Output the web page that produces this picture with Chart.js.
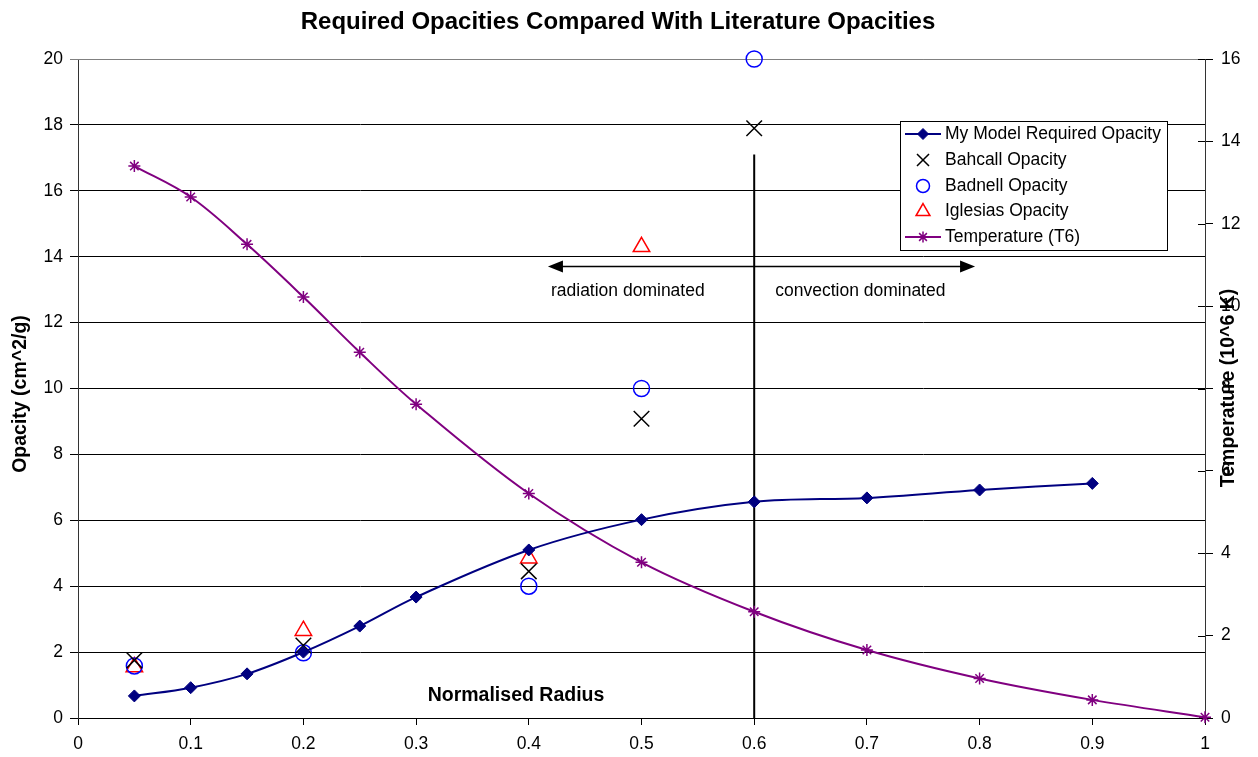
<!DOCTYPE html>
<html>
<head>
<meta charset="utf-8">
<script src="https://cdn.jsdelivr.net/npm/chart.js@4.4.1/dist/chart.umd.min.js"></script>
<style>
html,body{margin:0;padding:0;background:#fff;}
#wrap{width:1258px;height:757px;}
</style>
</head>
<body>
<div id="wrap"><canvas id="c" width="1258" height="757"></canvas></div>
<script>
// ---- data ----
const chartTitle = "Required Opacities Compared With Literature Opacities";
const modelRadius = [0.05, 0.1, 0.15, 0.2, 0.25, 0.3, 0.4, 0.5, 0.6, 0.7, 0.8, 0.9];
const modelOpacity = [0.67, 0.92, 1.34, 2.0, 2.79, 3.67, 5.1, 6.02, 6.56, 6.68, 6.92, 7.12];
const litRadius = [0.05, 0.2, 0.4, 0.5, 0.6];
const bahcallOpacity = [1.75, 2.2, 4.45, 9.08, 17.9];
const badnellOpacity = [1.58, 1.98, 4.0, 10.0, 20.0];
const iglesiasRadius = [0.05, 0.2, 0.4, 0.5];
const iglesiasOpacity = [1.55, 2.65, 4.85, 14.3];
const tempRadius = [0.05, 0.1, 0.15, 0.2, 0.25, 0.3, 0.4, 0.5, 0.6, 0.7, 0.8, 0.9, 1.0];
const temperatureT6 = [13.4, 12.65, 11.5, 10.22, 8.88, 7.62, 5.45, 3.78, 2.58, 1.65, 0.96, 0.44, 0.02];
const xTicks = [0, 0.1, 0.2, 0.3, 0.4, 0.5, 0.6, 0.7, 0.8, 0.9, 1];
const xTickLabels = ["0", "0.1", "0.2", "0.3", "0.4", "0.5", "0.6", "0.7", "0.8", "0.9", "1"];
const yTicks = [0, 2, 4, 6, 8, 10, 12, 14, 16, 18, 20];
const y2Ticks = [0, 2, 4, 6, 8, 10, 12, 14, 16];
const seriesNames = ["My Model Required Opacity", "Bahcall Opacity", "Badnell Opacity", "Iglesias Opacity", "Temperature (T6)"];
const convectionBoundary = 0.6;
const boundaryTop = 17.1;
const arrowLevel = 13.7;
const arrowFrom = 0.417;
const arrowTo = 0.796;
const regionLabels = ["radiation dominated", "convection dominated"];
const axisTitles = {x: "Normalised Radius", y: "Opacity (cm^2/g)", y2: "Temperature (10^6 K)"};

const FONT = "'Liberation Sans', Arial, sans-serif";
const pts = (xs, ys) => xs.map((x, i) => ({x: x, y: ys[i]}));

const datasets = [
  {label: seriesNames[0], data: pts(modelRadius, modelOpacity), yAxisID: 'y',
   borderColor: '#000080', backgroundColor: '#000080', borderWidth: 2, tension: 0.35,
   pointStyle: 'rectRot', pointRadius: 6, pointBorderWidth: 1, showLine: true, legendRadius: 5.5},
  {label: seriesNames[1], data: pts(litRadius, bahcallOpacity), yAxisID: 'y',
   borderColor: '#000000', backgroundColor: 'transparent', showLine: false,
   pointStyle: 'crossRot', pointRadius: 11, pointBorderWidth: 1.5, legendRadius: 8.5},
  {label: seriesNames[2], data: pts(litRadius, badnellOpacity), yAxisID: 'y',
   borderColor: '#0000FF', backgroundColor: 'transparent', showLine: false,
   pointStyle: 'circle', pointRadius: 8, pointBorderWidth: 1.5, legendRadius: 6.5},
  {label: seriesNames[3], data: pts(iglesiasRadius, iglesiasOpacity), yAxisID: 'y',
   borderColor: '#FF0000', backgroundColor: 'transparent', showLine: false,
   pointStyle: 'triangle', pointRadius: 9.5, pointBorderWidth: 1.5, legendRadius: 8},
  {label: seriesNames[4], data: pts(tempRadius, temperatureT6), yAxisID: 'y2',
   borderColor: '#800080', backgroundColor: '#800080', borderWidth: 2, tension: 0.35,
   pointStyle: 'star', pointRadius: 6, pointBorderWidth: 1.5, showLine: true, legendRadius: 5.5}
];

function drawArrowHead(ctx, x, y, dir) {
  ctx.beginPath();
  ctx.moveTo(x, y);
  ctx.lineTo(x - dir * 15, y - 6);
  ctx.lineTo(x - dir * 15, y + 6);
  ctx.closePath();
  ctx.fill();
}

const decor = {
  id: 'decor',
  beforeDraw(chart) {
    const ctx = chart.ctx;
    ctx.save();
    ctx.fillStyle = '#fff';
    ctx.fillRect(0, 0, chart.width, chart.height);
    ctx.restore();
  },
  beforeDatasetsDraw(chart) {
    const {ctx, scales} = chart;
    const xs = scales.x, ys = scales.y, y2 = scales.y2;
    const ca = chart.chartArea;
    ctx.save();
    ctx.strokeStyle = '#808080';
    ctx.lineWidth = 1;
    ctx.beginPath();
    ctx.moveTo(ca.left, Math.round(ca.top) + 0.5);
    ctx.lineTo(ca.right, Math.round(ca.top) + 0.5);
    ctx.stroke();
    ctx.strokeStyle = '#000';
    y2Ticks.forEach(v => {
      const py = Math.round(y2.getPixelForValue(v)) + 0.5;
      ctx.beginPath();
      ctx.moveTo(ca.right - 7, py);
      ctx.lineTo(ca.right, py);
      ctx.stroke();
    });
    const bx = xs.getPixelForValue(convectionBoundary);
    ctx.lineWidth = 2;
    ctx.beginPath();
    ctx.moveTo(bx, ys.getPixelForValue(0));
    ctx.lineTo(bx, ys.getPixelForValue(boundaryTop));
    ctx.stroke();
    const ay = ys.getPixelForValue(arrowLevel);
    const ax1 = xs.getPixelForValue(arrowFrom), ax2 = xs.getPixelForValue(arrowTo);
    ctx.lineWidth = 1.5;
    ctx.beginPath();
    ctx.moveTo(ax1 + 8, ay);
    ctx.lineTo(ax2 - 8, ay);
    ctx.stroke();
    ctx.fillStyle = '#000';
    drawArrowHead(ctx, ax1, ay, -1);
    drawArrowHead(ctx, ax2, ay, 1);
    ctx.font = '17.5px ' + FONT;
    ctx.textBaseline = 'middle';
    ctx.textAlign = 'left';
    ctx.fillText(regionLabels[0], ax1 + 3, ay + 25);
    ctx.fillText(regionLabels[1], bx + 21, ay + 25);
    ctx.restore();
  },
  afterDraw(chart) {
    const {ctx} = chart;
    ctx.save();
    ctx.fillStyle = '#000';
    ctx.font = 'bold 24px ' + FONT;
    ctx.textAlign = 'center';
    ctx.textBaseline = 'middle';
    ctx.fillText(chartTitle, 618, 22);
    ctx.font = 'bold 19.5px ' + FONT;
    ctx.fillText(axisTitles.x, 516, 696);
    ctx.save();
    ctx.translate(21, 394);
    ctx.rotate(-Math.PI / 2);
    ctx.fillText(axisTitles.y, 0, 0);
    ctx.restore();
    ctx.save();
    ctx.translate(1229, 388);
    ctx.rotate(-Math.PI / 2);
    ctx.fillText(axisTitles.y2, 0, 0);
    ctx.restore();
    // legend
    const lx = 900.5, ly = 121.5, lw = 267, lh = 129;
    ctx.fillStyle = '#fff';
    ctx.fillRect(lx, ly, lw, lh);
    ctx.strokeStyle = '#000';
    ctx.lineWidth = 1;
    ctx.strokeRect(lx, ly, lw, lh);
    ctx.font = '17.5px ' + FONT;
    ctx.textAlign = 'left';
    ctx.textBaseline = 'middle';
    const rowY = [134, 160, 186, 211.5, 237];
    chart.data.datasets.forEach((ds, i) => {
      const cy = rowY[i];
      if (ds.showLine) {
        ctx.strokeStyle = ds.borderColor;
        ctx.lineWidth = 2;
        ctx.beginPath();
        ctx.moveTo(905, cy);
        ctx.lineTo(941, cy);
        ctx.stroke();
      }
      ctx.strokeStyle = ds.borderColor;
      ctx.fillStyle = ds.backgroundColor;
      ctx.lineWidth = ds.pointBorderWidth;
      Chart.helpers.drawPoint(ctx, {pointStyle: ds.pointStyle, radius: ds.legendRadius, rotation: 0, borderWidth: ds.pointBorderWidth}, 923, cy);
      ctx.fillStyle = '#000';
      ctx.fillText(ds.label, 945, cy);
    });
    ctx.restore();
  }
};

new Chart(document.getElementById('c'), {
  type: 'scatter',
  data: {datasets: datasets},
  options: {
    responsive: false,
    animation: false,
    clip: false,
    layout: {padding: {top: 59, left: 0, right: 0, bottom: 0}},
    plugins: {legend: {display: false}, title: {display: false}, tooltip: {enabled: false}},
    scales: {
      x: {
        type: 'linear', position: 'bottom', min: 0, max: 1,
        afterBuildTicks: s => { s.ticks = xTicks.map(v => ({value: v})); },
        afterFit: s => { s.height = 39; },
        ticks: {font: {family: FONT, size: 17.5}, color: '#000', padding: 9, maxRotation: 0, autoSkip: false,
                callback: (v, i) => xTickLabels[i]},
        grid: {drawOnChartArea: false, drawTicks: true, tickLength: 7, color: '#000'},
        border: {display: true, color: '#000', width: 1}
      },
      y: {
        type: 'linear', position: 'left', min: 0, max: 20,
        afterBuildTicks: s => { s.ticks = yTicks.map(v => ({value: v})); },
        afterFit: s => { s.width = 78; },
        ticks: {font: {family: FONT, size: 17.5}, color: '#000', padding: 7, autoSkip: false,
                callback: v => String(v)},
        grid: {color: ctx => (ctx.tick && ctx.tick.value === 20) ? '#808080' : '#000', drawTicks: true, tickLength: 8, lineWidth: 1},
        border: {display: true, color: '#333', width: 1}
      },
      y2: {
        type: 'linear', position: 'right', min: 0, max: 16,
        afterBuildTicks: s => { s.ticks = y2Ticks.map(v => ({value: v})); },
        afterFit: s => { s.width = 53; },
        ticks: {font: {family: FONT, size: 17.5}, color: '#000', padding: 8, autoSkip: false,
                callback: v => String(v)},
        grid: {drawOnChartArea: false, drawTicks: true, tickLength: 8, color: '#000'},
        border: {display: true, color: '#333', width: 1}
      }
    }
  },
  plugins: [decor]
});
</script>
</body>
</html>
